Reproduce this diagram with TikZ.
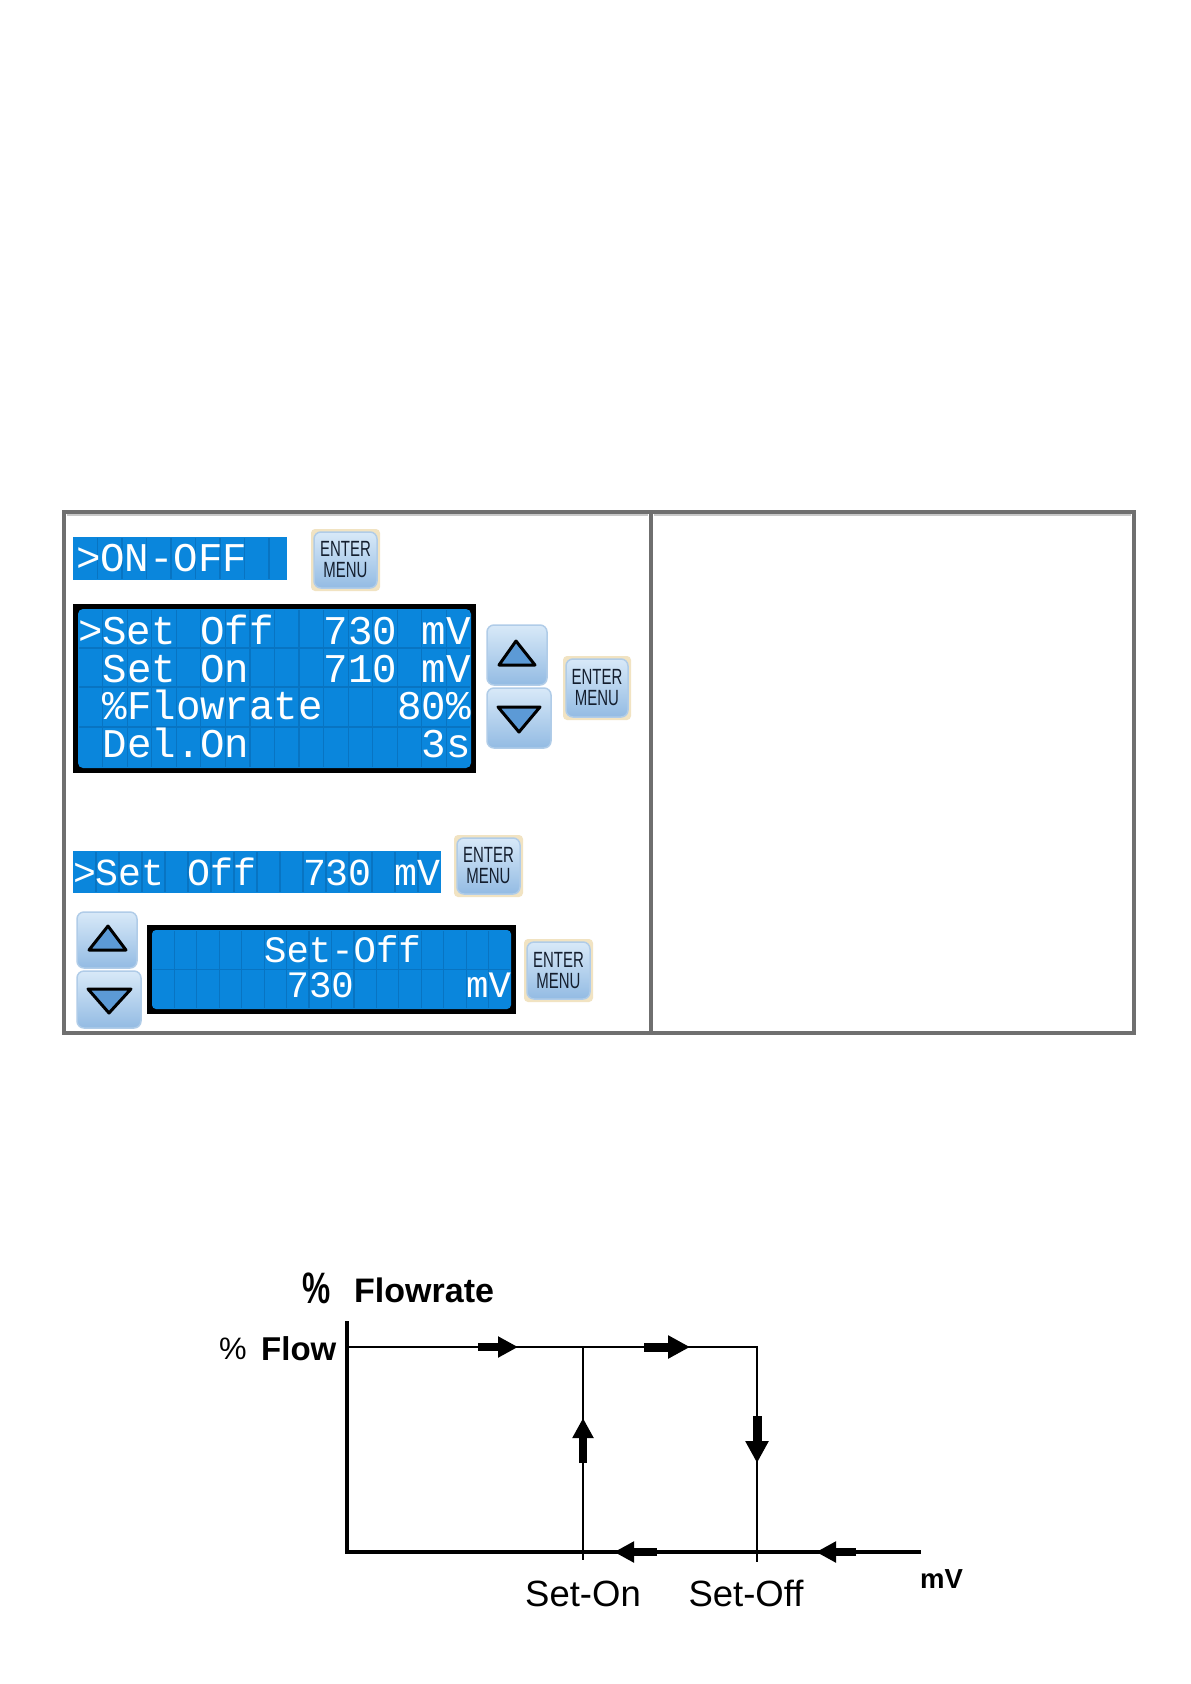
\documentclass[tikz,border=0pt]{standalone}
\usepackage{fontspec}
\usepackage{graphicx}
\setmainfont{Liberation Sans}
\newfontfamily\lcdfont{Liberation Mono}
\usetikzlibrary{arrows.meta}
\definecolor{lcdblue}{HTML}{0A86DC}
\definecolor{lcdgrid}{HTML}{0874C2}
\definecolor{framegray}{HTML}{6F6F6F}
\definecolor{framelight}{HTML}{C8C8C8}
\definecolor{glow}{HTML}{F1E3C2}
\definecolor{btntop}{HTML}{D8E9F8}
\definecolor{btnbot}{HTML}{93BBE3}
\definecolor{btnedge}{HTML}{B0CCE8}
\definecolor{trifill}{HTML}{5C9AD6}
\definecolor{btntext}{HTML}{141E2E}
\tikzset{
  lcdtxt/.style={text=white, anchor=base west, inner sep=0pt, outer sep=0pt},
  lcdgridline/.style={draw=lcdgrid, line width=1.2pt},
  btnface/.style={rounded corners=7pt, top color=btntop, bottom color=btnbot, draw=btnedge, line width=1.5pt},
  glowbox/.style={rounded corners=4pt, fill=glow},
  btnlabel/.style={inner sep=0pt, text=btntext, font=\fontsize{22}{21}\selectfont, align=center},
  trishape/.style={fill=trifill, draw=black, line width=3pt, line join=round},
  flowarr/.style={line width=8pt, -{Triangle[length=20pt,width=20pt]}},
  bigflowarr/.style={line width=9pt, -{Triangle[length=22pt,width=22pt]}},
  chartlbl/.style={inner sep=0pt, anchor=base west}
}
\newcommand{\enterbtn}[5]{%
  \fill[glowbox] (#2,#3) rectangle (#4,#5);
  \draw[btnface] ({#2+3},{#3+3}) rectangle ({#4-3},{#5-3});
  \node[btnlabel] (#1) at ({(#2+#4)/2},{(#3+#5)/2}) {\scalebox{0.68}[1]{ENTER}\\\scalebox{0.68}[1]{MENU}};
}
\begin{document}
\begin{tikzpicture}[x=1pt,y=-1pt]
\useasboundingbox (0,0) rectangle (1191,1684);
\fill[white] (0,0) rectangle (1191,1684);

% ---------- frame ----------
\draw[framegray, line width=4pt] (64,512) rectangle (1134,1033);
\draw[framegray, line width=4pt] (651,512) -- (651,1033);
\draw[framelight, line width=1.5pt] (67,515) -- (648,515);
\draw[framelight, line width=1.5pt] (654,515) -- (1131,515);

% ---------- top LCD >ON-OFF ----------
\fill[lcdblue] (73,537) rectangle (287,580);
\foreach \i in {1,...,8} \draw[lcdgridline] ({73+\i*24.5},538) -- ({73+\i*24.5},579);
\node[lcdtxt, font=\lcdfont\fontsize{40.8}{41}\selectfont] (onoff) at (76,571) {>ON-OFF};
\enterbtn{e1}{311}{529}{380}{591}

% ---------- big LCD ----------
\fill[black] (73,604) rectangle (476,773);
\fill[lcdblue, rounded corners=5pt] (78,609) rectangle (471,768);
\foreach \i in {1,...,15} \draw[lcdgridline] ({78+\i*24.5625},610) -- ({78+\i*24.5625},767);
\foreach \y in {648,687,727} \draw[lcdgridline] (79,\y) -- (470,\y);
\begin{scope}[every node/.style={lcdtxt, font=\lcdfont\fontsize{40.8}{41}\selectfont}]
  \node (r1a) at ({78+0*24.5625},644) {>Set Off};
  \node (r1b) at ({78+10*24.5625},644) {730 mV};
  \node (r2a) at ({78+1*24.5625},682) {Set On};
  \node (r2b) at ({78+10*24.5625},682) {710 mV};
  \node (r3a) at ({78+1*24.5625},719) {\%Flowrate};
  \node (r3b) at ({78+13*24.5625},719) {80\%};
  \node (r4a) at ({78+1*24.5625},757) {Del.On};
  \node (r4b) at ({78+14*24.5625},757) {3s};
\end{scope}

% up / down buttons 1
\draw[btnface] (487,625) rectangle (547,685);
\draw[trishape] (516,641) -- (535,665) -- (499,665) -- cycle;
\draw[btnface] (487,688) rectangle (551,748);
\draw[trishape] (498,707) -- (540,707) -- (519,732) -- cycle;
\enterbtn{e2}{563}{656}{631}{720}

% ---------- Set Off line LCD ----------
\fill[lcdblue] (73,851) rectangle (441,893);
\foreach \i in {1,...,15} \draw[lcdgridline] ({73+\i*23},852) -- ({73+\i*23},892);
\begin{scope}[every node/.style={lcdtxt, font=\lcdfont\fontsize{38.2}{39}\selectfont}]
  \node (s1a) at (73,885) {>Set Off};
  \node (s1b) at ({73+10*23},885) {730 mV};
\end{scope}
\enterbtn{e3}{454}{835}{523}{897}

% ---------- up / down buttons 2 ----------
\draw[btnface] (77,912) rectangle (137,968);
\draw[trishape] (108,926) -- (126,950) -- (89,950) -- cycle;
\draw[btnface] (77,971) rectangle (141,1028);
\draw[trishape] (88,989) -- (131,989) -- (109,1013) -- cycle;

% ---------- two-line LCD ----------
\fill[black] (147,925) rectangle (516,1014);
\fill[lcdblue, rounded corners=4pt] (152,930) rectangle (511,1009);
\foreach \i in {1,...,15} \draw[lcdgridline] ({152+\i*22.44},931) -- ({152+\i*22.44},1008);
\draw[lcdgridline] (153,969.5) -- (510,969.5);
\begin{scope}[every node/.style={lcdtxt, font=\lcdfont\fontsize{37.3}{38}\selectfont}]
  \node (l2a) at ({152+5*22.44},962) {Set-Off};
  \node (l2b) at ({152+6*22.44},997) {730};
  \node (l2c) at ({152+14*22.44},997) {mV};
\end{scope}
\enterbtn{e4}{524}{939}{593}{1002}

% ---------- chart ----------
\coordinate (O) at (347,1552);
\coordinate (Ytop) at (347,1321);
\coordinate (Xend) at (921,1552);
\coordinate (F0) at (347,1347);
\coordinate (Fon) at (583,1347);
\coordinate (Foff) at (757,1347);
\coordinate (Bon) at (583,1560);
\coordinate (Boff) at (757,1562);

\draw[line width=4pt] (Ytop) -- (O) -- (Xend);
\draw[line width=2.5pt] (F0) -- (Foff) -- (Boff);
\draw[line width=2pt] (Fon) -- (Bon);

\draw[flowarr] (478,1347) -- (518,1347);
\draw[bigflowarr] (644,1347) -- (690,1347);
\draw[flowarr] (583,1463) -- (583,1418);
\draw[bigflowarr] (757,1416) -- (757,1463);
\draw[flowarr] (657,1552) -- (614,1552);
\draw[flowarr] (856,1552) -- (816,1552);

\node[inner sep=0pt, font=\bfseries\fontsize{44}{44}\selectfont] (pct) at (317,1288) {\scalebox{0.72}[1]{\%}};
\node[chartlbl, font=\bfseries\fontsize{34}{34}\selectfont] (flowrate) at (354,1302) {Flowrate};
\node[chartlbl, font=\fontsize{31}{31}\selectfont] (pct2) at (219,1359) {\%};
\node[chartlbl, font=\bfseries\fontsize{33}{33}\selectfont] (flow) at (261,1360) {Flow};
\node[inner sep=0pt, anchor=base, font=\fontsize{36.5}{37}\selectfont] (seton) at (583,1606) {Set-On};
\node[inner sep=0pt, anchor=base, font=\fontsize{36.5}{37}\selectfont] (setoff) at (746,1606) {Set-Off};
\node[chartlbl, font=\bfseries\fontsize{27.5}{28}\selectfont] (mv) at (920,1588) {mV};
\end{tikzpicture}
\end{document}
